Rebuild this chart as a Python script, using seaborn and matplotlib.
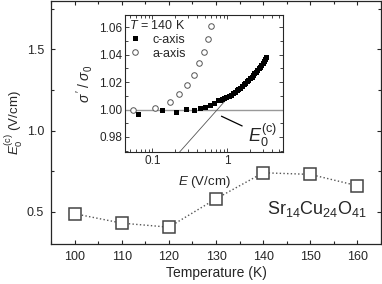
import matplotlib
matplotlib.use("Agg")
from matplotlib import pyplot as plt
from matplotlib.ticker import MultipleLocator, LogLocator, NullFormatter
import seaborn as sns

# main panel: threshold field vs temperature
temperature = [100, 110, 120, 130, 140, 150, 160]
e0_c = [0.488, 0.43, 0.405, 0.58, 0.74, 0.73, 0.66]

# inset: normalised conductivity at T = 140 K
e_a = [0.055, 0.11, 0.17, 0.23, 0.29, 0.36, 0.42, 0.486, 0.55, 0.615]
sig_a = [1.000, 1.001, 1.0056, 1.0115, 1.0178, 1.025, 1.034, 1.042, 1.0516, 1.0613]

e_c = [0.064, 0.135, 0.21, 0.28, 0.36, 0.43, 0.50, 0.585, 0.67, 0.757,
       0.80, 0.86, 0.92, 0.98, 1.05, 1.12, 1.19, 1.26, 1.34, 1.42,
       1.50, 1.58, 1.66, 1.75, 1.84, 1.93, 2.02, 2.12, 2.22, 2.32,
       2.42, 2.53, 2.64, 2.75, 2.86, 2.98, 3.10, 3.22, 3.35]
sig_c = [0.997, 0.9995, 0.9985, 1.0005, 0.9993, 1.001, 1.002, 1.003, 1.005, 1.0073,
         1.0067, 1.0075, 1.0082, 1.0090, 1.0099, 1.0108, 1.0120, 1.0128, 1.0139, 1.0148,
         1.0160, 1.0170, 1.0185, 1.0195, 1.0206, 1.0218, 1.0229, 1.0241, 1.0254, 1.0265,
         1.0277, 1.0290, 1.0302, 1.0314, 1.0327, 1.0340, 1.0353, 1.0367, 1.0384]

# linear extrapolation giving E0
fit_e = [0.232, 0.95]
fit_sig = [0.969, 1.0066]


def main():
    sns.set_style("ticks")
    plt.rcParams["font.family"] = ["Liberation Sans", "DejaVu Sans"]
    plt.rcParams["mathtext.fontset"] = "custom"
    plt.rcParams["mathtext.rm"] = "Liberation Sans"
    plt.rcParams["mathtext.it"] = "Liberation Sans:italic"
    plt.rcParams["xtick.direction"] = "in"
    plt.rcParams["ytick.direction"] = "in"

    fig = plt.figure(figsize=(3.82, 2.84), dpi=100)
    ax = fig.add_axes([0.1335, 0.14, 0.864, 0.858])

    sns.lineplot(x=temperature, y=e0_c, ax=ax, estimator=None, color="#555555",
                 linestyle=":", linewidth=1.0, marker="s", markersize=8,
                 markerfacecolor="white", markeredgecolor="#444444", markeredgewidth=1.1)
    ax.set_xlim(95, 165)
    ax.set_ylim(0.3, 1.8)
    ax.set_xticks(temperature)
    ax.xaxis.set_minor_locator(MultipleLocator(5))
    ax.set_yticks([0.5, 1.0, 1.5])
    ax.set_yticklabels(["0.5", "1.0", "1.5"])
    ax.yaxis.set_minor_locator(MultipleLocator(0.25))
    ax.tick_params(which="both", top=True, right=True, labelsize=9, width=0.8, pad=5)
    ax.tick_params(which="major", length=3.2)
    ax.tick_params(which="minor", length=2)
    ax.set_xlabel("Temperature (K)", fontsize=10, labelpad=2)
    ax.set_ylabel(r"$E_0^{\rm (c)}$ (V/cm)", fontsize=9.5)
    ax.yaxis.set_label_coords(-0.08, 0.5)
    for s in ax.spines.values():
        s.set_linewidth(0.9)
    ax.text(0.958, 0.125, r"Sr$_{14}$Cu$_{24}$O$_{41}$", transform=ax.transAxes,
            ha="right", va="baseline", fontsize=13)

    ins = fig.add_axes([0.327, 0.465, 0.414, 0.482])
    ins.axhline(1.0, color="#999999", linewidth=1.0, zorder=1)
    ins.plot(fit_e, fit_sig, color="#555555", linewidth=0.6, zorder=1)
    sns.lineplot(x=e_c, y=sig_c, ax=ins, estimator=None, linestyle="", marker="s",
                 markersize=3.6, color="black", markeredgewidth=0, label="c-axis")
    sns.lineplot(x=e_a, y=sig_a, ax=ins, estimator=None, linestyle="", marker="o",
                 markersize=4, markerfacecolor="white", markeredgecolor="#555555",
                 markeredgewidth=0.7, color="#555555", label="a-axis")
    ins.set_xscale("log")
    ins.set_xlim(0.043, 5.6)
    ins.set_ylim(0.969, 1.069)
    ins.set_xticks([0.1, 1])
    ins.set_xticklabels(["0.1", "1"])
    ins.xaxis.set_minor_locator(LogLocator(base=10, subs=range(2, 10)))
    ins.xaxis.set_minor_formatter(NullFormatter())
    ins.set_yticks([0.98, 1.00, 1.02, 1.04, 1.06])
    ins.set_yticklabels(["0.98", "1.00", "1.02", "1.04", "1.06"])
    ins.yaxis.set_minor_locator(MultipleLocator(0.01))
    ins.tick_params(which="both", top=True, right=True, labelsize=8.5, width=0.6, pad=2)
    ins.tick_params(which="major", length=3)
    ins.tick_params(which="minor", length=2)
    ins.set_xlabel(r"$E$ (V/cm)", fontsize=9.5, labelpad=5)
    ins.set_ylabel(r"$\sigma\,'\;/\;\sigma_0$", fontsize=10, labelpad=3)
    for s in ins.spines.values():
        s.set_linewidth(0.8)
    ins.legend(loc="upper left", title=r"$T$ = 140 K", alignment="left", frameon=False,
               fontsize=9, title_fontsize=9, handlelength=1.0, handletextpad=0.9,
               borderaxespad=0.1, borderpad=0.2, labelspacing=0.15)
    ins.annotate(r"$E_0^{\rm (c)}$", xy=(0.84, 0.9951), xytext=(1.9, 0.981),
                 fontsize=13, ha="left", va="center",
                 arrowprops=dict(arrowstyle="-", color="black", linewidth=0.9,
                                 shrinkA=2, shrinkB=0))

    fig.savefig("out.png", dpi=100)


if __name__ == "__main__":
    main()
